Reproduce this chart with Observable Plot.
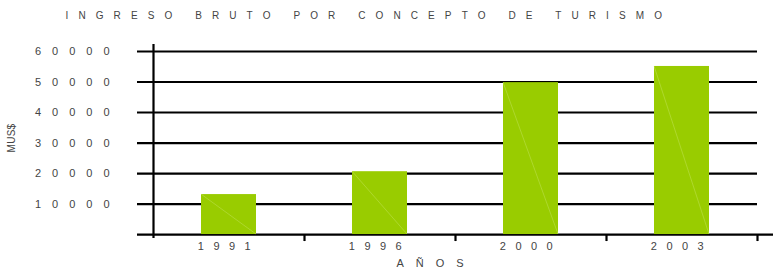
<!DOCTYPE html>
<html>
<head>
<meta charset="utf-8">
<script src="https://cdn.jsdelivr.net/npm/d3@7"></script>
<script src="https://cdn.jsdelivr.net/npm/@observablehq/plot@0.6"></script>
<style>
  body { margin: 0; background: #fff; }
  svg { font-family: "Liberation Sans", Arial, sans-serif; }
</style>
</head>
<body>
<div id="chart"></div>
<script>
const years = ["1991", "1996", "2000", "2003"];
const values = [13100, 20600, 49800, 55100];
const yTicks = [10000, 20000, 30000, 40000, 50000, 60000];
const title = "INGRESO BRUTO POR CONCEPTO DE TURISMO";
const xLabel = "AÑOS";
const yLabel = "MUS$";

const data = years.map((year, i) => ({year, value: values[i]}));

const W = 773, H = 268, mL = 153, mR = 16, mT = 44, mB = 30;
const halfStep = (W - mL - mR) / years.length / 2;
const textColor = "#444";

function diagonals(index, scales) {
  const g = d3.create("svg:g").attr("aria-label", "diagonals");
  const x = scales.x, y = scales.y;
  const bw = x.bandwidth ? x.bandwidth() : 0;
  for (const d of data) {
    const x0 = x(d.year);
    g.append("line")
      .attr("x1", x0).attr("y1", y(d.value))
      .attr("x2", x0 + bw).attr("y2", y(0))
      .attr("stroke", "#d4ee80").attr("stroke-width", 0.5).attr("stroke-opacity", 0.7);
  }
  return g.node();
}

const chart = Plot.plot({
  width: W, height: H,
  marginLeft: mL, marginRight: mR, marginTop: mT, marginBottom: mB,
  x: {domain: years, paddingInner: 0.635, paddingOuter: 0.3175, align: 0.5, axis: null},
  y: {domain: [-1300, 62300], axis: null},
  style: {fontFamily: "Liberation Sans, Arial, sans-serif", fontSize: "11px", color: textColor, background: "#fff"},
  marks: [
    Plot.ruleY(yTicks, {stroke: "#000", strokeWidth: 2.2, insetLeft: -16}),
    Plot.ruleY([0], {stroke: "#000", strokeWidth: 2.2, insetLeft: -16, insetRight: -16}),
    Plot.barY(data, {x: "year", y: "value", fill: "#99cc00"}),
    diagonals,
    Plot.ruleX([years[0]], {dx: -halfStep, y1: -1300, y2: 62300, stroke: "#000", strokeWidth: 2.2}),
    Plot.ruleX(years, {dx: halfStep, y1: 0, y2: -2300, stroke: "#000", strokeWidth: 2.2}),
    Plot.axisY(yTicks, {tickSize: 0, tickPadding: 33, tickFormat: d => String(d), fill: textColor, label: null}),
    Plot.axisX({tickSize: 0, tickPadding: 4, fill: textColor, label: null}),
    Plot.text([title], {frameAnchor: "top-left", dx: -88, dy: -33, textAnchor: "start", fill: textColor, fontSize: 10}),
    Plot.text([xLabel], {frameAnchor: "bottom-left", dx: 243, dy: 28, textAnchor: "start", fill: textColor, fontSize: 11}),
    Plot.text([yLabel], {frameAnchor: "left", dx: -142, dy: 11, rotate: -90, fill: textColor, fontSize: 10})
  ]
});
document.getElementById("chart").appendChild(chart);

const yTickText = new Set(yTicks.map(String));
const yearText = new Set(years);
d3.select(chart).selectAll("text").each(function() {
  const t = this.textContent;
  const s = d3.select(this);
  if (yTickText.has(t)) s.style("letter-spacing", "11px");
  else if (yearText.has(t)) s.style("letter-spacing", "9.5px");
  else if (t === title) s.style("letter-spacing", "10.1px");
  else if (t === xLabel) s.style("letter-spacing", "12px");
  else if (t === yLabel) s.style("letter-spacing", "0.3px");
});
</script>
</body>
</html>
